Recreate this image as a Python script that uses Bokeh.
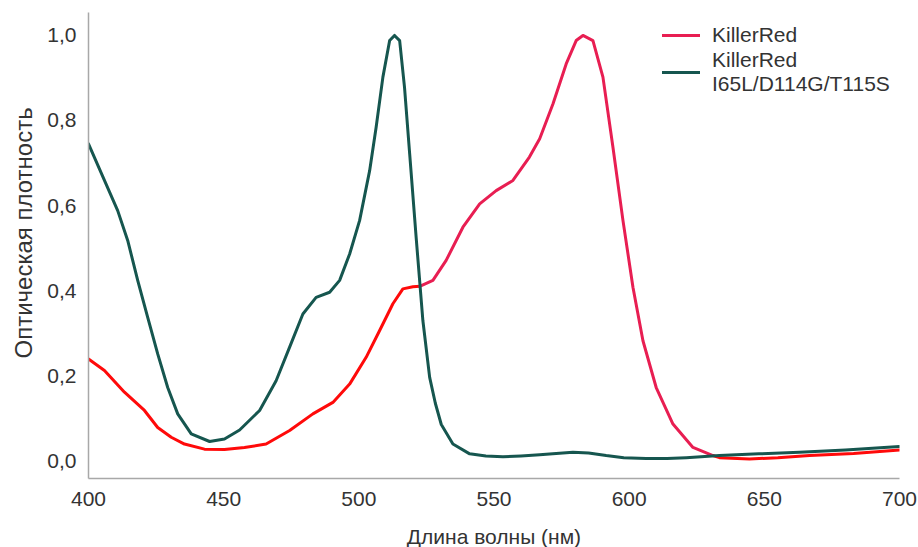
import numpy as np
from bokeh.plotting import figure
from bokeh.models import FixedTicker, CustomJSTickFormatter, Legend, LegendItem, Range1d, Title
from bokeh.embed import file_html
from bokeh.resources import INLINE

# ---- data ----
wl_green = [400, 405.9, 410.8, 414.5, 418.2, 421.9, 425.6, 429.3, 433, 438, 444.8, 450.3, 455.9,
            463.3, 469.4, 474.4, 479.3, 484.2, 489.2, 492.9, 496.6, 500.3, 504, 506.4, 508.9,
            511.4, 513.2, 515.1, 516.9, 518.8, 521.2, 523.7, 526.2, 528.3, 530.5, 534.8, 541,
            547, 553.3, 560, 566.9, 573, 579.2, 585, 591.5, 598, 606.3, 614, 621.1, 633.4,
            648, 663, 680, 700]
abs_green = [0.745, 0.659, 0.588, 0.518, 0.424, 0.337, 0.251, 0.172, 0.110, 0.063, 0.045, 0.051, 0.072,
             0.118, 0.188, 0.267, 0.345, 0.384, 0.396, 0.424, 0.486, 0.565, 0.682, 0.784, 0.902,
             0.988, 1.0, 0.988, 0.878, 0.722, 0.525, 0.329, 0.196, 0.135, 0.085, 0.039, 0.016,
             0.011, 0.009, 0.011, 0.014, 0.017, 0.020, 0.018, 0.012, 0.007, 0.005, 0.005, 0.007, 0.012,
             0.016, 0.020, 0.025, 0.033]

wl_red = [400, 405.9, 413.3, 420.7, 425.6, 430.6, 435.5, 442.9, 450.3, 457.7, 465.7, 474.4,
          483, 490.4, 496.6, 502.7, 507.7, 512.6, 516.3, 520, 522.5, 527.4, 532.3, 538.5,
          544.7, 550.8, 557, 563.1, 566.9, 571.8, 576.7, 580.4, 582.9, 586.6, 590.3, 594,
          597.7, 601.4, 605.1, 610, 616.2, 623.6, 631, 633.4, 644.5, 655, 666.7, 683, 700]
abs_red = [0.239, 0.212, 0.161, 0.118, 0.078, 0.055, 0.039, 0.027, 0.026, 0.031, 0.039, 0.071,
           0.11, 0.137, 0.18, 0.243, 0.306, 0.369, 0.404, 0.409, 0.41, 0.424, 0.471, 0.549,
           0.604, 0.635, 0.659, 0.714, 0.757, 0.839, 0.933, 0.988, 1.0, 0.988, 0.902, 0.737,
           0.565, 0.408, 0.282, 0.172, 0.086, 0.031, 0.012, 0.007, 0.004, 0.007, 0.012, 0.017, 0.025]

x_ticks = [400, 450, 500, 550, 600, 650, 700]
y_ticks = [0.0, 0.2, 0.4, 0.6, 0.8, 1.0]

label_red = "KillerRed"
label_green = "KillerRed\nI65L/D114G/T115S"
x_title = "Длина волны (нм)"
y_title = "Оптическая плотность"

GREEN = "#16564f"
PINK = "#e81e52"
RED = "#ff0a0a"
TEXT = "#333333"
FONT = "Liberation Sans"

p = figure(frame_width=811, frame_height=466, output_backend="svg", toolbar_location=None,
           x_range=Range1d(400, 700), y_range=Range1d(-0.042, 1.054),
           min_border_left=81, min_border_right=18, min_border_top=12, min_border_bottom=69)
p.outline_line_color = None
p.grid.visible = False
p.background_fill_color = "white"

wr = np.array(wl_red, dtype=float)
ar = np.array(abs_red, dtype=float)
m1 = wr <= 522.5
m2 = (wr >= 522.5) & (wr <= 631)
m3 = wr >= 631

kw = dict(line_width=3, line_join="round", line_cap="round")
p.line(wr[m1], ar[m1], line_color=RED, **kw)
p.line(wr[m3], ar[m3], line_color=RED, **kw)
r_pink = p.line(wr[m2], ar[m2], line_color=PINK, **kw)
r_green = p.line(wl_green, abs_green, line_color=GREEN, **kw)

for ax in (p.xaxis[0], p.yaxis[0]):
    ax.axis_line_color = "#a8a8a8"
    ax.axis_line_width = 1.5
    ax.major_tick_line_color = None
    ax.minor_tick_line_color = None
    ax.major_tick_out = 0
    ax.major_tick_in = 0
    ax.minor_tick_out = 0
    ax.minor_tick_in = 0
    ax.major_label_text_font = FONT
    ax.major_label_text_font_size = "21px"
    ax.major_label_text_color = TEXT
    ax.axis_label_text_font = FONT
    ax.axis_label_text_color = TEXT
    ax.axis_label_text_font_style = "normal"

p.xaxis.axis_label_text_font_size = "21px"
p.xaxis.ticker = FixedTicker(ticks=x_ticks)
p.yaxis.ticker = FixedTicker(ticks=y_ticks)
p.yaxis.formatter = CustomJSTickFormatter(code="return tick.toFixed(1).replace('.', ',');")
p.xaxis.axis_label = x_title
p.xaxis.major_label_standoff = 13
p.yaxis.major_label_standoff = 12
p.xaxis.axis_label_standoff = 16

ytitle = Title(text=y_title, align="left", offset=120, standoff=15,
               text_font=FONT, text_font_size="24px", text_font_style="normal",
               text_color=TEXT)
p.add_layout(ytitle, "left")

legend = Legend(items=[LegendItem(label=label_red, renderers=[r_pink]),
                       LegendItem(label=label_green, renderers=[r_green])],
                location=(574, 382), padding=0, margin=0, spacing=1,
                glyph_width=38, label_standoff=12,
                label_text_font=FONT, label_text_font_size="21px", label_text_color=TEXT,
                border_line_color=None, background_fill_alpha=0)
p.add_layout(legend)

open("out.html", "w").write(file_html(p, INLINE))
